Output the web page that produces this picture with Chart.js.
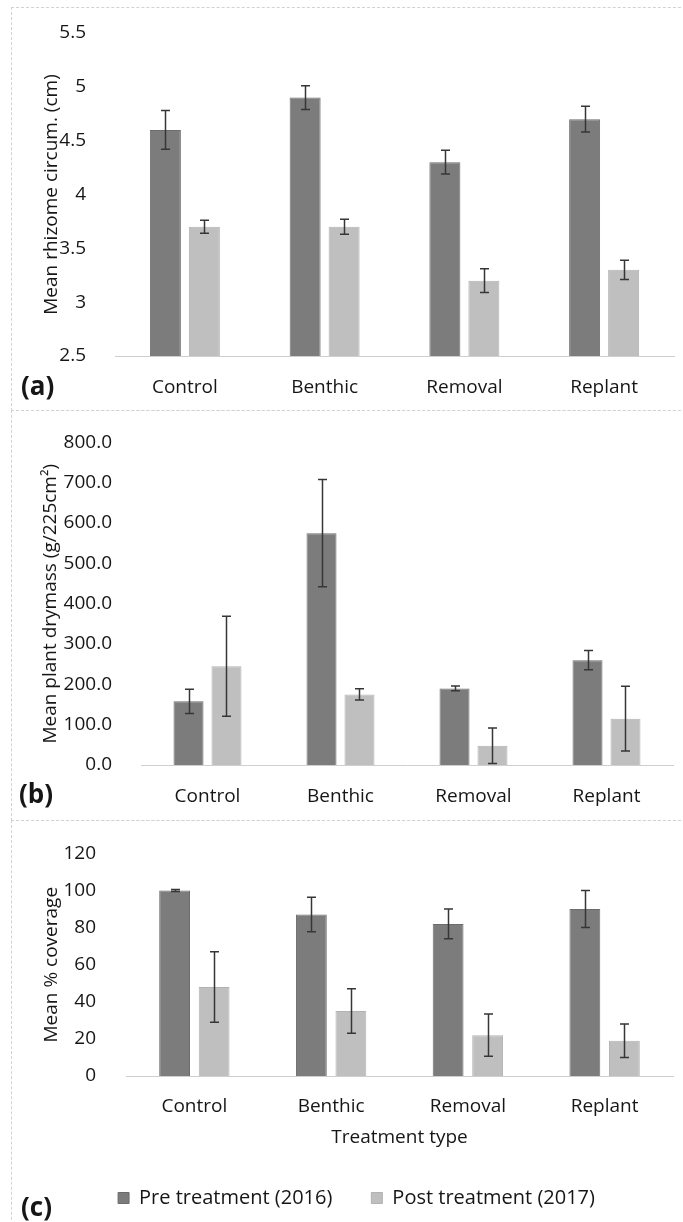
<!DOCTYPE html>
<html><head><meta charset="utf-8">
<script src="https://cdn.jsdelivr.net/npm/chart.js@4.4.1/dist/chart.umd.min.js"></script>
<style>
html,body{margin:0;padding:0;background:#fff;width:683px;height:1222px;overflow:hidden;position:relative;}
.frame{position:absolute;left:11px;width:700px;border:1px dashed #d2d2d2;box-sizing:border-box;}
.panel{position:absolute;left:0;width:683px;}
canvas{display:block;}
</style></head><body>
<div class="frame" style="top:7px;height:404px"></div>
<div class="frame" style="top:410px;height:411px"></div>
<div class="frame" style="top:820px;height:420px"></div>
<div class="panel" style="top:0;height:410px"><canvas id="ca" width="683" height="410"></canvas></div>
<div class="panel" style="top:410px;height:410px"><canvas id="cb" width="683" height="410"></canvas></div>
<div class="panel" style="top:820px;height:402px"><canvas id="cc" width="683" height="402"></canvas></div>
<script>
// ---- data ----
const categories = ['Control', 'Benthic', 'Removal', 'Replant'];
const seriesNames = ['Pre treatment (2016)', 'Post treatment (2017)'];

const rhizomePre = [4.6, 4.9, 4.3, 4.7];
const rhizomePreErr = [0.18, 0.11, 0.11, 0.12];
const rhizomePost = [3.7, 3.7, 3.2, 3.3];
const rhizomePostErr = [0.06, 0.07, 0.11, 0.09];

const drymassPre = [158, 575, 190, 260];
const drymassPreErr = [30, 133, 6, 24];
const drymassPost = [245, 175, 48, 115];
const drymassPostErr = [124, 14, 44, 80];

const coveragePre = [100, 87, 82, 90];
const coveragePreErr = [0.5, 9.3, 8, 10];
const coveragePost = [48, 35, 22, 19];
const coveragePostErr = [19, 12, 11.4, 9];

const rhizomeTicks = {min: 2.5, max: 5.5, step: 0.5};
const drymassTicks = {min: 0, max: 800, step: 100};
const coverageTicks = {min: 0, max: 120, step: 20};

// ---- styles ----
const FONT = 'Open Sans';
const TXT = '#161616';
const PRE = '#7c7c7c';
const POST = '#bfbfbf';

const errorBars = {
  id: 'errorBars',
  afterDatasetsDraw(chart) {
    const ctx = chart.ctx, ys = chart.scales.y;
    ctx.save();
    ctx.strokeStyle = '#363636';
    ctx.lineWidth = 1.5;
    chart.data.datasets.forEach((ds, di) => {
      const meta = chart.getDatasetMeta(di);
      meta.data.forEach((bar, i) => {
        const v = ds.data[i], e = ds.errors[i];
        const x = Math.round(bar.x) + 0.5;
        const yt = ys.getPixelForValue(v + e), yb = ys.getPixelForValue(v - e);
        ctx.beginPath();
        ctx.moveTo(x, yt); ctx.lineTo(x, yb);
        ctx.moveTo(x - 4.5, yt); ctx.lineTo(x + 4.5, yt);
        ctx.moveTo(x - 4.5, yb); ctx.lineTo(x + 4.5, yb);
        ctx.stroke();
      });
    });
    ctx.restore();
  }
};

const panelLabel = {
  id: 'panelLabel',
  afterDraw(chart, args, o) {
    const ctx = chart.ctx;
    ctx.save();
    ctx.font = 'bold 26px "' + FONT + '"';
    ctx.fillStyle = TXT;
    ctx.textBaseline = 'middle';
    ctx.textAlign = 'left';
    ctx.fillText(o.text, o.x, o.y);
    ctx.restore();
  }
};

function build(id, o) {
  const f = {family: FONT, size: 19};
  return new Chart(document.getElementById(id), {
    type: 'bar',
    data: {
      labels: categories,
      datasets: [
        {label: seriesNames[0], data: o.pre, errors: o.preErr, backgroundColor: PRE, borderColor: '#6c6c6c', borderWidth: 1,
         categoryPercentage: o.cat, barPercentage: o.bar},
        {label: seriesNames[1], data: o.post, errors: o.postErr, backgroundColor: POST, borderColor: '#b2b2b2', borderWidth: 1,
         categoryPercentage: o.cat, barPercentage: o.bar}
      ]
    },
    options: {
      responsive: false, animation: false, devicePixelRatio: 1,
      layout: {padding: {left: o.padL, right: o.padR, top: o.padT, bottom: o.padB}},
      plugins: {
        legend: {display: !!o.legend, position: 'bottom',
          labels: {boxWidth: 11, boxHeight: 11, padding: 39, font: {family: FONT, size: 20}, color: TXT}},
        tooltip: {enabled: false},
        panelLabel: o.label
      },
      scales: {
        x: {
          grid: {display: false},
          border: {display: true, color: '#cfcfcf', width: 1, dash: [2, 1]},
          ticks: {padding: o.xPad, font: f, color: TXT},
          title: o.xTitle ? {display: true, text: o.xTitle, font: f, color: TXT, padding: 0} : {display: false},
          afterFit(s) { s.height = o.xH; }
        },
        y: {
          min: o.ticks.min, max: o.ticks.max,
          grid: {display: false},
          border: {display: false},
          ticks: {stepSize: o.ticks.step, padding: o.yPad, font: f, color: TXT,
                  callback: o.fmt || (v => v)},
          title: {display: true, text: o.yTitle, font: f, color: TXT, padding: 0},
          afterFit(s) { s.width = o.yW; }
        }
      }
    },
    plugins: [errorBars, panelLabel]
  });
}

build('ca', {
  pre: rhizomePre, preErr: rhizomePreErr, post: rhizomePost, postErr: rhizomePostErr,
  ticks: rhizomeTicks, yTitle: 'Mean rhizome circum. (cm)',
  padL: 40, padR: 9, padT: 33, padB: 0, yW: 75, xH: 54, xPad: 12, yPad: 21,
  cat: 0.558, bar: 0.795,
  label: {text: '(a)', x: 21, y: 388}
});

build('cb', {
  pre: drymassPre, preErr: drymassPreErr, post: drymassPost, postErr: drymassPostErr,
  ticks: drymassTicks, yTitle: 'Mean plant drymass (g/225cm²)', fmt: v => Number(v).toFixed(1),
  padL: 39, padR: 10, padT: 23, padB: 0, yW: 102, xH: 55, xPad: 12, yPad: 21,
  cat: 0.571, bar: 0.79,
  label: {text: '(b)', x: 19, y: 386}
});

build('cc', {
  pre: coveragePre, preErr: coveragePreErr, post: coveragePost, postErr: coveragePostErr,
  ticks: coverageTicks, yTitle: 'Mean % coverage', xTitle: 'Treatment type',
  padL: 40, padR: 10, padT: 20, padB: 4, yW: 86, xH: 73, xPad: 11, yPad: 22,
  cat: 0.578, bar: 0.78, legend: true,
  label: {text: '(c)', x: 21, y: 389}
});
</script>
</body></html>
